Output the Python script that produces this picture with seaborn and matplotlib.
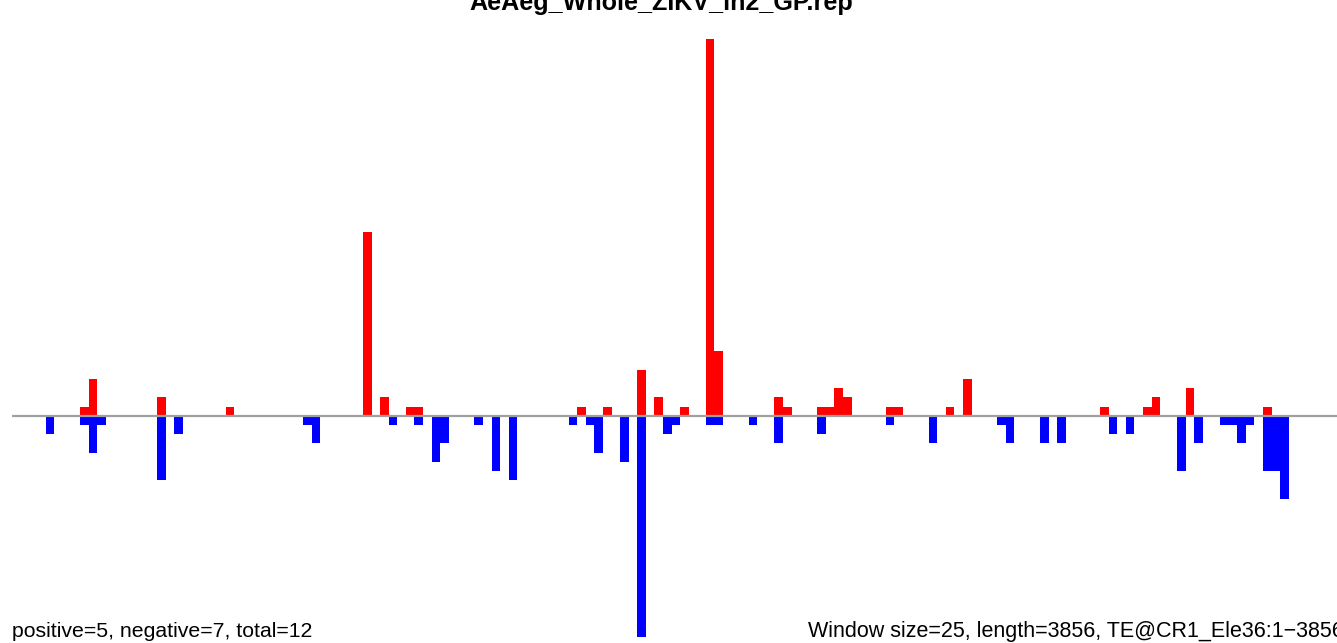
import matplotlib
matplotlib.use("Agg")
import matplotlib.pyplot as plt
import seaborn as sns
import pandas as pd

# ---- data (window index -> count) ----
window_size = 25
seq_length = 3856
title = "AeAeg_Whole_ZIKV_in2_GP.rep"
left_note = "positive=5, negative=7, total=12"
right_note = "Window size=25, length=3856, TE@CR1_Ele36:1\u22123856"

pos_windows = [8, 9, 17, 25, 41, 43, 46, 47, 66, 69, 73, 75, 78, 81, 82, 89, 90,
               94, 95, 96, 97, 102, 103, 109, 111, 127, 132, 133, 137, 146]
pos_counts = [1, 4, 2, 1, 20, 2, 1, 1, 1, 1, 5, 2, 1, 41, 7, 2, 1,
              1, 1, 3, 2, 1, 1, 1, 4, 1, 1, 2, 3, 1]

neg_windows = [4, 8, 9, 10, 17, 19, 34, 35, 44, 47, 49, 50, 54, 56, 58, 65, 67, 68,
               71, 73, 76, 77, 81, 82, 86, 89, 94, 102, 107, 115, 116, 120, 122,
               128, 130, 136, 138, 141, 142, 143, 144, 146, 147, 148]
neg_counts = [2, 1, 4, 1, 7, 2, 1, 3, 1, 1, 5, 3, 1, 6, 7, 1, 1, 4,
              5, 24, 2, 1, 1, 1, 1, 3, 2, 1, 3, 1, 3, 3, 3,
              2, 2, 6, 3, 1, 1, 3, 1, 6, 6, 9]

pos_df = pd.DataFrame({"pos": [w * window_size + window_size / 2 for w in pos_windows],
                       "value": pos_counts})
neg_df = pd.DataFrame({"pos": [w * window_size + window_size / 2 for w in neg_windows],
                       "value": [-c for c in neg_counts]})

sns.set_style("white")
plt.rcParams["font.family"] = ["Liberation Sans", "DejaVu Sans"]
plt.rcParams["text.color"] = "black"

W, H = 1337, 643
fig = plt.figure(figsize=(W / 100, H / 100), dpi=100)
ax = fig.add_axes([0, 0, 1, 1])

sns.barplot(data=pos_df, x="pos", y="value", native_scale=True, orient="x",
            width=1, color="#ff0000", saturation=1, linewidth=0,
            errorbar=None, antialiased=False, ax=ax)
sns.barplot(data=neg_df, x="pos", y="value", native_scale=True, orient="x",
            width=1, color="#0000ff", saturation=1, linewidth=0,
            errorbar=None, antialiased=False, ax=ax)

ax.hlines(0, 0, seq_length * 2, color="#a0a0a0", linewidth=1.6, zorder=5)

# pixel mapping: x0 = 11.6 px, 8.571 px per window; baseline 415.7 px from top, 9.2 px per unit
px_per_bp = 8.571 / window_size
ax.set_xlim(-11.6 / px_per_bp, (W - 11.6) / px_per_bp)
unit = 9.2
ax.set_ylim(-(H - 415.7) / unit, 415.7 / unit)
ax.axis("off")

fig.text(661.5 / W, 1 - 10 / H, title, ha="center", va="baseline",
         fontsize=18.1, fontweight="bold", color="black")
fig.text(11.7 / W, 1 - 637 / H, left_note, ha="left", va="baseline",
         fontsize=15.3, color="black")
fig.text(808.3 / W, 1 - 637 / H, right_note, ha="left", va="baseline",
         fontsize=15.5, color="black")

fig.savefig("out.png", dpi=100, facecolor="white")
